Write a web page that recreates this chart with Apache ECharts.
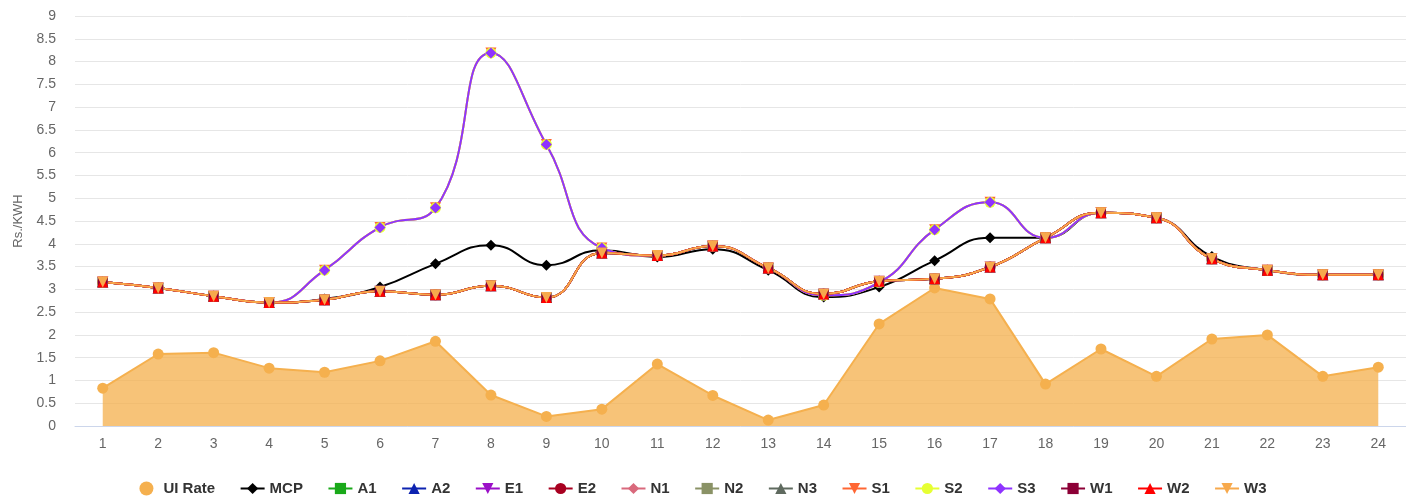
<!DOCTYPE html>
<html>
<head>
<meta charset="utf-8">
<script src="https://cdn.jsdelivr.net/npm/echarts@6/dist/echarts.min.js"></script>
<style>
  html, body { margin: 0; padding: 0; background: #fff; }
  #chart { width: 1406px; height: 497px; }
</style>
</head>
<body>
<div id="chart"></div>
<script>
// hours of the day
var hours = ['1','2','3','4','5','6','7','8','9','10','11','12','13','14','15','16','17','18','19','20','21','22','23','24'];

// UI rate (area)
var uiRate = [0.83,1.58,1.61,1.27,1.18,1.43,1.86,0.68,0.21,0.37,1.36,0.67,0.13,0.46,2.24,3.03,2.79,0.92,1.69,1.09,1.91,2.00,1.09,1.29];

// market clearing price
var mcp = [3.16,3.03,2.85,2.71,2.79,3.05,3.56,3.97,3.53,3.86,3.71,3.88,3.42,2.83,3.05,3.63,4.13,4.13,4.68,4.57,3.72,3.42,3.32,3.32];

// area prices, most regions follow the lower curve
var lowRate = [3.16,3.03,2.85,2.71,2.77,2.96,2.88,3.08,2.82,3.80,3.74,3.95,3.47,2.90,3.18,3.23,3.49,4.13,4.68,4.57,3.67,3.42,3.32,3.32];
// southern regions S1-S3 follow the upper curve
var highRate = [3.16,3.03,2.85,2.71,3.42,4.36,4.79,8.19,6.18,3.91,3.74,3.95,3.47,2.87,3.15,4.31,4.91,4.13,4.68,4.57,3.67,3.42,3.32,3.32];

var regions = ['A1','A2','E1','E2','N1','N2','N3','S1','S2','S3','W1','W2','W3'];
var regionData = {
  A1: lowRate, A2: lowRate, E1: lowRate, E2: lowRate,
  N1: lowRate, N2: lowRate, N3: lowRate,
  S1: highRate, S2: highRate, S3: highRate,
  W1: lowRate, W2: lowRate, W3: lowRate
};

var regionStyle = {
  A1: { color: '#19a919', symbol: 'rect', rot: 0 },
  A2: { color: '#0d23b0', symbol: 'triangle', rot: 0 },
  E1: { color: '#9b10c8', symbol: 'triangle', rot: 180 },
  E2: { color: '#a80020', symbol: 'circle', rot: 0 },
  N1: { color: '#d9697c', symbol: 'diamond', rot: 0 },
  N2: { color: '#8a9266', symbol: 'rect', rot: 0 },
  N3: { color: '#5f6a5f', symbol: 'triangle', rot: 0 },
  S1: { color: '#ff6633', symbol: 'triangle', rot: 180 },
  S2: { color: '#e6ff33', symbol: 'circle', rot: 0 },
  S3: { color: '#8f33ff', symbol: 'diamond', rot: 0 },
  W1: { color: '#8c0036', symbol: 'rect', rot: 0 },
  W2: { color: '#ff0000', symbol: 'triangle', rot: 0 },
  W3: { color: '#f7a94c', symbol: 'triangle', rot: 180 }
};

var chart = echarts.init(document.getElementById('chart'));

var series = [{
  name: 'UI Rate',
  type: 'line',
  data: uiRate,
  symbol: 'circle',
  symbolSize: 11,
  color: '#f5b04e',
  lineStyle: { width: 2, color: '#f5b04e' },
  itemStyle: { color: '#f5b04e' },
  areaStyle: { color: '#f5b04e', opacity: 0.76 }
}, {
  name: 'MCP',
  type: 'line',
  data: mcp,
  smooth: true,
  symbol: 'diamond',
  symbolSize: 11,
  color: '#000',
  lineStyle: { width: 2, color: '#000' },
  itemStyle: { color: '#000' }
}];

regions.forEach(function(r) {
  var s = regionStyle[r];
  series.push({
    name: r,
    type: 'line',
    data: regionData[r],
    smooth: true,
    symbol: s.symbol,
    symbolRotate: s.rot,
    symbolSize: s.symbol == 'rect' ? 10 : 11,
    color: s.color,
    lineStyle: { width: 2, color: s.color },
    itemStyle: { color: s.color }
  });
});

var legendData = [{ name: 'UI Rate', icon: 'circle' }, 'MCP'].concat(regions);

chart.setOption({
  animation: false,
  grid: { left: 75, top: 16, width: 1334, height: 410, containLabel: false },
  legend: {
    data: legendData,
    top: 476,
    left: 'center',
    itemGap: 24.5,
    itemWidth: 24,
    itemHeight: 14,
    textStyle: { color: '#333', fontSize: 15, fontWeight: 'bold', fontFamily: 'Liberation Sans, Arial, sans-serif' }
  },
  xAxis: {
    type: 'category',
    data: hours,
    boundaryGap: true,
    axisLine: { lineStyle: { color: '#ccd6eb', width: 1 } },
    axisTick: { length: 11, lineStyle: { color: '#ccd6eb' } },
    axisLabel: { color: '#666', fontSize: 14, margin: 11, fontFamily: 'Liberation Sans, Arial, sans-serif' },
    splitLine: { show: false }
  },
  yAxis: {
    type: 'value',
    min: 0,
    max: 9,
    interval: 0.5,
    name: 'Rs./KWH',
    nameLocation: 'middle',
    nameGap: 50,
    nameTextStyle: { color: '#666', fontSize: 13, fontFamily: 'Liberation Sans, Arial, sans-serif' },
    axisLine: { show: false },
    axisTick: { show: false },
    axisLabel: { color: '#666', fontSize: 14, margin: 19, fontFamily: 'Liberation Sans, Arial, sans-serif' },
    splitLine: { lineStyle: { color: '#e6e6e6', width: 1 } }
  },
  series: series
});
</script>
</body>
</html>
